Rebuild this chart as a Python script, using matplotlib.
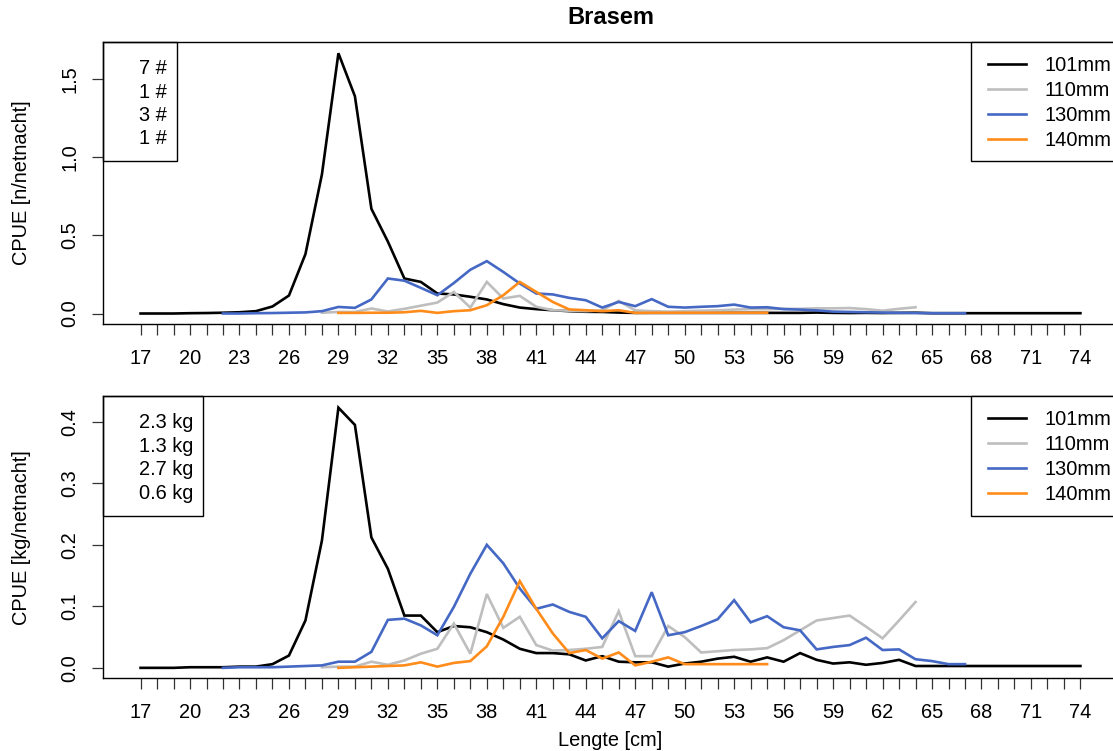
import numpy as np
import matplotlib
matplotlib.use("Agg")
import matplotlib.pyplot as plt
from matplotlib.patches import Rectangle

plt.rcParams['font.family'] = ['Liberation Sans', 'DejaVu Sans']

# length classes (cm) per mesh size
len_101 = np.arange(17, 75)
len_110 = np.arange(28, 65)
len_130 = np.arange(22, 68)
len_140 = np.arange(29, 56)

# CPUE in number per net night
n_101 = [0, 0, 0, 0.002, 0.003, 0.005, 0.008, 0.015, 0.045, 0.115,
         0.38, 0.89, 1.665, 1.39, 0.67, 0.46, 0.224, 0.202, 0.128, 0.122,
         0.107, 0.09, 0.06, 0.038, 0.028, 0.021, 0.015, 0.011, 0.01, 0.006,
         0.004, 0.004, 0.004, 0.004, 0.004, 0.004, 0.004, 0.004, 0.004, 0.004,
         0.004, 0.006, 0.004, 0.003, 0.004, 0.003, 0.004, 0.005, 0.002, 0.002,
         0.002, 0.002, 0.002, 0.002, 0.002, 0.002, 0.002, 0.002]
n_110 = [0.005, 0.01, 0.01, 0.032, 0.013, 0.03, 0.05, 0.07, 0.138, 0.038,
         0.202, 0.096, 0.113, 0.043, 0.021, 0.018, 0.015, 0.02, 0.081, 0.02,
         0.015, 0.012, 0.015, 0.018, 0.02, 0.025, 0.028, 0.028, 0.03, 0.03,
         0.033, 0.033, 0.035, 0.028, 0.018, 0.03, 0.04]
n_130 = [0, 0, 0.002, 0.003, 0.005, 0.007, 0.015, 0.042, 0.036, 0.09,
         0.224, 0.21, 0.164, 0.117, 0.195, 0.28, 0.335, 0.266, 0.192, 0.128,
         0.122, 0.1, 0.085, 0.038, 0.074, 0.047, 0.092, 0.043, 0.038, 0.043,
         0.047, 0.057, 0.038, 0.04, 0.028, 0.025, 0.02, 0.012, 0.01, 0.008,
         0.006, 0.004, 0.003, 0.002, 0.002, 0.002]
n_140 = [0.004, 0.004, 0.005, 0.005, 0.008, 0.017, 0.004, 0.015, 0.021, 0.053,
         0.117, 0.202, 0.138, 0.074, 0.026, 0.021, 0.015, 0.021, 0.004, 0.005,
         0.005, 0.005, 0.005, 0.005, 0.005, 0.005, 0.005]

# CPUE in kg per net night
kg_101 = [0, 0, 0, 0.001, 0.001, 0.001, 0.002, 0.002, 0.006, 0.02,
          0.077, 0.207, 0.423, 0.395, 0.212, 0.161, 0.085, 0.085, 0.058, 0.068,
          0.066, 0.058, 0.046, 0.031, 0.024, 0.024, 0.022, 0.012, 0.019, 0.01,
          0.009, 0.009, 0.002, 0.007, 0.01, 0.015, 0.018, 0.01, 0.017, 0.01,
          0.024, 0.013, 0.007, 0.009, 0.005, 0.008, 0.013, 0.003, 0.003, 0.003,
          0.003, 0.003, 0.003, 0.003, 0.003, 0.003, 0.003, 0.003]
kg_110 = [0.001, 0.002, 0.002, 0.01, 0.005, 0.012, 0.023, 0.031, 0.072, 0.023,
          0.12, 0.065, 0.083, 0.037, 0.028, 0.029, 0.031, 0.034, 0.092, 0.019,
          0.019, 0.068, 0.05, 0.025, 0.027, 0.029, 0.03, 0.032, 0.045, 0.061,
          0.077, 0.081, 0.085, 0.067, 0.048, 0.077, 0.107]
kg_130 = [0, 0.001, 0.001, 0.001, 0.002, 0.003, 0.004, 0.01, 0.01, 0.026,
          0.078, 0.08, 0.069, 0.053, 0.099, 0.153, 0.2, 0.17, 0.129, 0.096,
          0.103, 0.091, 0.083, 0.048, 0.076, 0.06, 0.123, 0.053, 0.058, 0.068,
          0.079, 0.11, 0.074, 0.084, 0.066, 0.061, 0.03, 0.034, 0.037, 0.049,
          0.029, 0.03, 0.014, 0.011, 0.006, 0.006]
kg_140 = [0, 0.001, 0.002, 0.003, 0.004, 0.009, 0.002, 0.008, 0.011, 0.035,
          0.083, 0.141, 0.096, 0.056, 0.024, 0.029, 0.015, 0.025, 0.004, 0.01,
          0.017, 0.006, 0.006, 0.006, 0.006, 0.006, 0.006]

mesh_labels = ['101mm', '110mm', '130mm', '140mm']
colors = ['black', '#bebebe', '#4468c4', '#ff8c1a']
n_totals = ['7 #', '1 #', '3 #', '1 #']
kg_totals = ['2.3 kg', '1.3 kg', '2.7 kg', '0.6 kg']

xticks = list(range(17, 75))
xticklabels = [str(t) if (t - 17) % 3 == 0 else '' for t in xticks]

FS = 14.4

fig = plt.figure(figsize=(11.13, 7.51), dpi=100)
ax1 = fig.add_axes([0.0925, 0.5686, 0.912, 0.3755])
ax2 = fig.add_axes([0.0925, 0.0968, 0.912, 0.3759])


def draw_panel(ax, series, ylim, yticks, ylabels, ylabel, totals, box_w, box_h):
    lengths = [len_101, len_110, len_130, len_140]
    for L, y, c, lab in zip(lengths, series, colors, mesh_labels):
        ax.plot(L, y, color=c, lw=1.9, label=lab, solid_joinstyle='miter')
    ax.set_xlim(14.72, 76.28)
    ax.set_ylim(*ylim)
    ax.set_xticks(xticks)
    ax.set_xticklabels(xticklabels)
    ax.set_yticks(yticks)
    ax.set_yticklabels(ylabels, rotation=90, va='center')
    ax.tick_params(axis='both', direction='out', length=8, width=0.9,
                   labelsize=FS, color='#333333')
    ax.tick_params(axis='x', pad=10)
    ax.tick_params(axis='y', pad=9)
    for s in ax.spines.values():
        s.set_linewidth(1.0)
    ax.set_ylabel(ylabel, fontsize=FS)
    ax.yaxis.set_label_coords(-0.071, 0.5)

    # totals box, top left
    ax.add_patch(Rectangle((0, 1 - box_h), box_w, box_h, transform=ax.transAxes,
                           fill=False, lw=1.0, ec='black', clip_on=False))
    for i, t in enumerate(totals):
        ax.text(box_w - 0.0095, 0.905 - i * 0.083, t, transform=ax.transAxes,
                ha='right', va='center', fontsize=FS)

    # legend box, top right (runs past the right edge)
    ax.add_patch(Rectangle((0.855, 1 - box_h), 0.2, box_h, transform=ax.transAxes,
                           fc='white', lw=1.0, ec='black', clip_on=False, zorder=5))
    leg = ax.legend(loc='upper left', bbox_to_anchor=(0.872, 0.951),
                    borderaxespad=0, borderpad=0, fontsize=FS,
                    handlelength=1.9, handletextpad=0.9, labelspacing=0.3,
                    frameon=False)
    leg.set_zorder(6)


draw_panel(ax1, [n_101, n_110, n_130, n_140], (-0.067, 1.737),
           [0, 0.5, 1.0, 1.5], ['0.0', '0.5', '1.0', '1.5'],
           'CPUE [n/netnacht]', n_totals, 0.0726, 0.422)
draw_panel(ax2, [kg_101, kg_110, kg_130, kg_140], (-0.017, 0.442),
           [0, 0.1, 0.2, 0.3, 0.4], ['0.0', '0.1', '0.2', '0.3', '0.4'],
           'CPUE [kg/netnacht]', kg_totals, 0.0988, 0.424)

ax2.set_xlabel('Lengte [cm]', fontsize=FS)
ax2.xaxis.set_label_coords(0.5, -0.185)

fig.text(610.5 / 1113, 1 - 18 / 751, 'Brasem', ha='center', va='center',
         fontsize=17, fontweight='bold')

fig.savefig('out.png', dpi=100)
